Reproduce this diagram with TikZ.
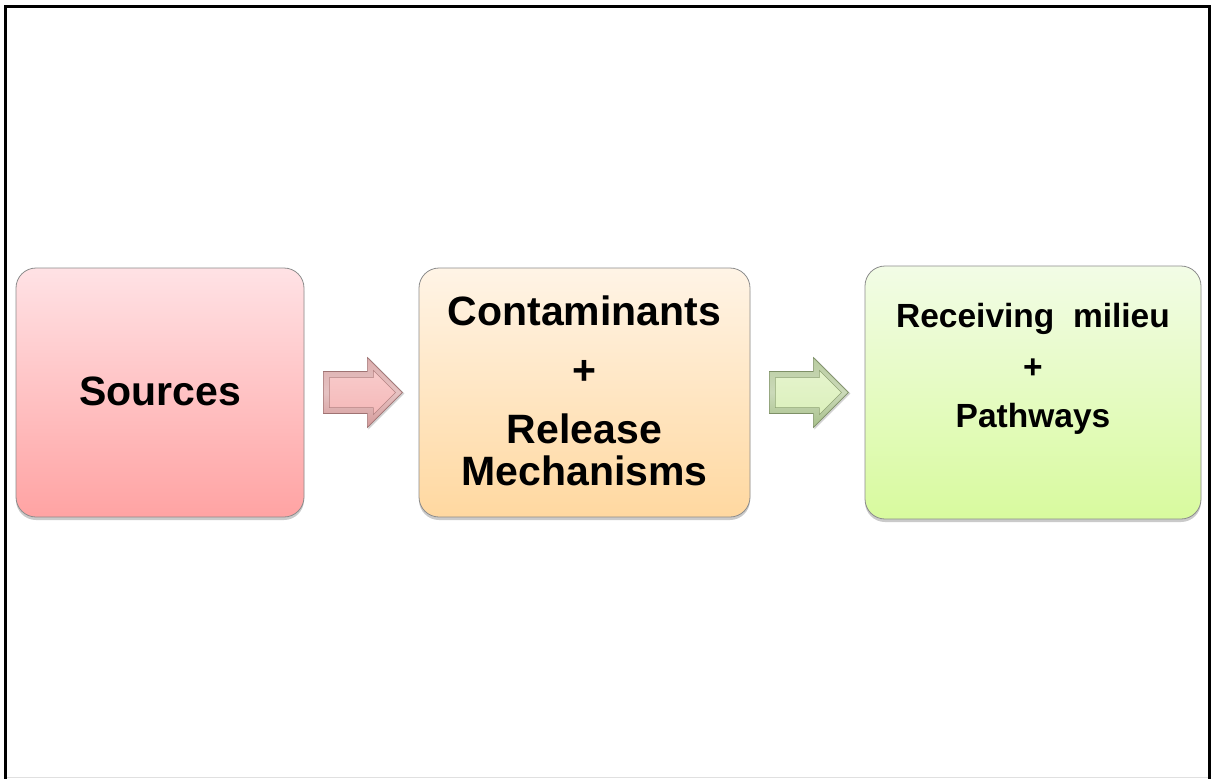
\documentclass[tikz,border=0pt]{standalone}
\usepackage{fontspec}
\setmainfont{Liberation Sans}
\usetikzlibrary{shadows,calc}
\definecolor{srctop}{HTML}{FFE2E5}
\definecolor{srcbot}{HTML}{FFA3A3}
\definecolor{midtop}{HTML}{FFF4E6}
\definecolor{midbot}{HTML}{FFD8A0}
\definecolor{rectop}{HTML}{F2FCE6}
\definecolor{recbot}{HTML}{D8FA9E}
\definecolor{boxedge}{HTML}{8C8C8C}
\definecolor{parrowout}{HTML}{D49A9A}
\definecolor{parrowin}{HTML}{F5B9B9}
\definecolor{garrowout}{HTML}{A8C08A}
\definecolor{garrowin}{HTML}{DCF0BC}
\tikzset{
  stagebox/.style={draw=boxedge, line width=0.8pt, rounded corners=20pt, inner sep=0pt,
    drop shadow={shadow xshift=0pt, shadow yshift=-3pt, opacity=0.35, fill=black!60}},
  bigtxt/.style={font=\fontsize{41}{44}\selectfont\bfseries, inner sep=0pt, anchor=base},
  medtxt/.style={font=\fontsize{33.5}{38}\selectfont\bfseries, inner sep=0pt, anchor=base},
}
\begin{document}
\begin{tikzpicture}[x=1pt,y=-1pt]
\useasboundingbox (0,0) rectangle (1211,779);
% frame
\draw[black!12, line width=1pt] (6,777.5) -- (1209.5,777.5);
\draw[line width=3pt] (5.5,779) -- (5.5,6.5) -- (1209.5,6.5) -- (1209.5,779);
% boxes
\node[stagebox, top color=srctop, bottom color=srcbot, minimum width=288pt, minimum height=249pt] (src) at (160,392.5) {};
\node[stagebox, top color=midtop, bottom color=midbot, minimum width=331pt, minimum height=249pt] (mid) at (584.5,392.5) {};
\node[stagebox, top color=rectop, bottom color=recbot, minimum width=336pt, minimum height=253pt] (rec) at (1033,392.5) {};
% texts
\node[bigtxt] (tsrc) at (160,405) {Sources};
\node[bigtxt] (tcon) at (584.5,325) {Contaminants};
\node[bigtxt] (tplus1) at (584.5,384) {+};
\node[bigtxt] (trel) at (584.5,443) {Release};
\node[bigtxt] (tmech) at (584.5,485) {Mechanisms};
\node[medtxt] (trec) at (1033,327) {Receiving\ \ milieu};
\node[medtxt] (tplus2) at (1033,378) {+};
\node[medtxt] (tpath) at (1033,427) {Pathways};
% block arrows (bevelled)
\foreach \from/\oc/\ic/\sh in {src/parrowout/parrowin/p, mid/garrowout/garrowin/g}{
  \coordinate (\sh a) at ($(\from.east)+(19,0)$);
  \fill[black, opacity=0.18] ($(\sh a)+(1,-19)$) -- ++(44,0) -- ++(0,-16) -- ++(36,36) -- ++(-36,36) -- ++(0,-16) -- ++(-44,0) -- cycle;
  \path[draw=\oc!75!black, line width=0.6pt, top color=\oc!80!white, bottom color=\oc, middle color=\oc!60!white, shading angle=0]
    ($(\sh a)+(0,-21)$) -- ++(44,0) -- ++(0,-14) -- ++(35,35) -- ++(-35,35) -- ++(0,-14) -- ++(-44,0) -- cycle;
  \path[draw=\oc!85!black, line width=0.5pt, top color=\ic!75!white, bottom color=\ic]
    ($(\sh a)+(6,-15)$) -- ++(44,0) -- ++(0,-7) -- ++(22,22) -- ++(-22,22) -- ++(0,-7) -- ++(-44,0) -- cycle;
}
\end{tikzpicture}
\end{document}
